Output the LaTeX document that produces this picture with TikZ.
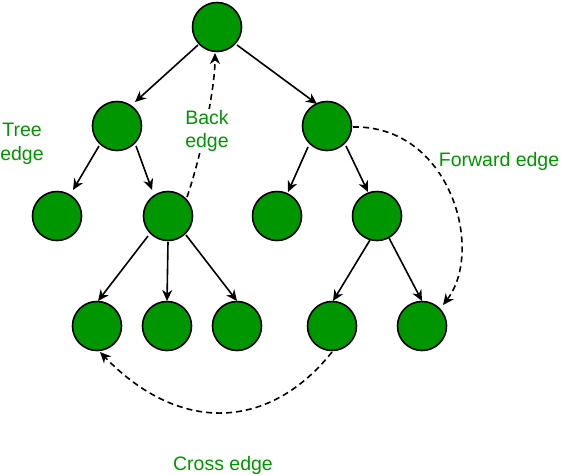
\documentclass[tikz,border=0pt]{standalone}
\usepackage{fontspec}
\setmainfont{Liberation Sans}
\usetikzlibrary{arrows.meta,calc}
\definecolor{gfg}{RGB}{0,150,0}
\tikzset{
  vert/.style={circle,draw=black,line width=1.6pt,fill=gfg,minimum size=49pt,inner sep=0pt},
  tree/.style={line width=1.6pt,-{Stealth[length=11pt,width=10pt,inset=3.5pt]}},
  nontree/.style={tree,dash pattern=on 6pt off 4pt},
  lab/.style={text=gfg,font=\fontsize{19.5}{23.5}\selectfont,align=center,inner sep=1.5pt,fill=white}
}
\begin{document}
\begin{tikzpicture}[x=1pt,y=-1pt]
\useasboundingbox (0,0) rectangle (561,474);
\node[vert] (r) at (217,27) {};
\node[vert] (a) at (117,126) {};
\node[vert] (b) at (327,126) {};
\node[vert] (c) at (57,216) {};
\node[vert] (d) at (168,216) {};
\node[vert] (e) at (277,216) {};
\node[vert] (f) at (377,216) {};
\node[vert] (g) at (97,326) {};
\node[vert] (h) at (167,326) {};
\node[vert] (i) at (237,326) {};
\node[vert] (j) at (332,326) {};
\node[vert] (k) at (422,326) {};
% tree edges
\draw[tree] ($(r)+(-19,18)$) -- ($(a)+(18,-24)$);
\draw[tree] ($(r)+(20,18)$) -- ($(b)+(-10,-22)$);
\draw[tree] ($(a)+(-18,20)$) -- ($(c)+(16,-26)$);
\draw[tree] ($(a)+(19,20)$) -- ($(d)+(-16,-26)$);
\draw[tree] ($(b)+(-19,21)$) -- ($(e)+(11,-24)$);
\draw[tree] ($(b)+(19,20)$) -- ($(f)+(-9,-24)$);
\draw[tree] ($(d)+(-20,20)$) -- ($(g)+(1,-25)$);
\draw[tree] ($(d)+(0,26)$) -- ($(h)+(0,-25)$);
\draw[tree] ($(d)+(18,19)$) -- ($(i)+(0,-25)$);
\draw[tree] ($(f)+(-7,24)$) -- ($(j)+(1,-25)$);
\draw[tree] ($(f)+(12,22)$) -- ($(k)+(0,-25)$);
% non-tree edges
\draw[nontree] ($(d)+(19,-19)$) .. controls +(13,-37) and +(0,37) .. ($(r)+(-2,26)$);
\draw[nontree] ($(b)+(26,1)$) .. controls +(97,-2) and +(42,-55) .. ($(k)+(21,-21)$);
\draw[nontree] ($(j)+(0,26)$) .. controls +(-62,78) and +(80,83) .. ($(g)+(3,26)$);
% labels
\node[lab] (lt) at (22,144) {Tree\\edge};
\node[lab] (lb) at (207,131) {Back\\edge};
\node[lab,anchor=base] (lf) at (499,166) {Forward edge};
\node[lab,anchor=base] (lc) at (223,470) {Cross edge};
\end{tikzpicture}
\end{document}
